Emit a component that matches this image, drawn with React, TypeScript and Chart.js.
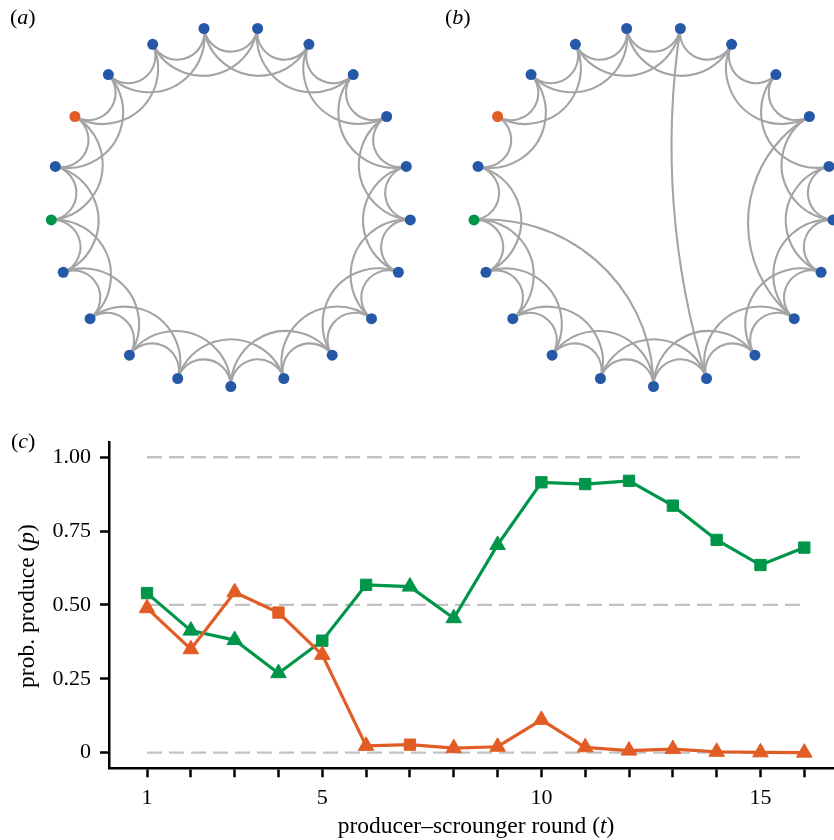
import React, { useEffect, useRef } from 'react';
import { Chart, registerables } from 'chart.js';

Chart.register(...registerables);

// ---------------- network data (panels a, b) ----------------
const nodeRoles: string[] = [
  'other', 'other', 'other', 'other', 'other',
  'producer', 'other', 'scrounger', 'other', 'other',
  'other', 'other', 'other', 'other', 'other',
  'other', 'other', 'other', 'other', 'other', 'other',
];

const roleColors: Record<string, string> = {
  other: '#2559a8',
  producer: '#00964a',
  scrounger: '#e25c26',
};

// regular ring lattice (each node linked to its 2 nearest neighbours on each side)
const edgesA: [number, number][] = [
  [0, 1], [1, 2], [2, 3], [3, 4], [4, 5], [5, 6], [6, 7], [7, 8], [8, 9], [9, 10],
  [10, 11], [11, 12], [12, 13], [13, 14], [14, 15], [15, 16], [16, 17], [17, 18], [18, 19], [19, 20], [20, 0],
  [0, 2], [1, 3], [2, 4], [3, 5], [4, 6], [5, 7], [6, 8], [7, 9], [8, 10], [9, 11],
  [10, 12], [11, 13], [12, 14], [13, 15], [14, 16], [15, 17], [16, 18], [17, 19], [18, 20], [19, 0], [20, 1],
];

// rewired lattice: three edges replaced by long-range shortcuts
const edgesB: [number, number][] = [
  [0, 1], [1, 2], [2, 3], [3, 4], [4, 5], [5, 6], [6, 7], [7, 8], [8, 9], [9, 10],
  [10, 11], [11, 12], [12, 13], [13, 14], [18, 14], [15, 16], [16, 17], [17, 18], [18, 19], [19, 20], [20, 0],
  [0, 2], [1, 3], [2, 4], [3, 5], [4, 6], [5, 0], [6, 8], [7, 9], [8, 10], [9, 11],
  [10, 12], [11, 20], [12, 14], [13, 15], [14, 16], [15, 17], [16, 18], [17, 19], [18, 20], [19, 0], [20, 1],
];

// ---------------- line chart data (panel c) ----------------
const rounds = [1, 2, 3, 4, 5, 6, 7, 8, 9, 10, 11, 12, 13, 14, 15, 16];
const greenP = [0.540, 0.413, 0.381, 0.269, 0.379, 0.568, 0.562, 0.455, 0.703, 0.915, 0.909, 0.920, 0.836, 0.720, 0.635, 0.694];
const greenMarkers = ['rect', 'triangle', 'triangle', 'triangle', 'rect', 'rect', 'triangle', 'triangle', 'triangle', 'rect', 'rect', 'rect', 'rect', 'rect', 'rect', 'rect'];
const orangeP = [0.489, 0.350, 0.543, 0.474, 0.331, 0.023, 0.027, 0.015, 0.020, 0.111, 0.018, 0.007, 0.012, 0.003, 0.001, 0.000];
const orangeMarkers = ['triangle', 'triangle', 'triangle', 'rect', 'triangle', 'triangle', 'rect', 'triangle', 'triangle', 'triangle', 'triangle', 'triangle', 'triangle', 'triangle', 'triangle', 'triangle'];
const refLevels = [0, 0.5, 1];
const xTickValues = [1, 2, 3, 4, 5, 6, 7, 8, 9, 10, 11, 12, 13, 14, 15, 16];
const xTickLabels = ['1', '', '', '', '5', '', '', '', '', '10', '', '', '', '', '15', ''];
const yTickValues = [0, 0.25, 0.5, 0.75, 1];
const yTickLabels = ['0', '0.25', '0.50', '0.75', '1.00'];

const GREEN = '#00964a';
const ORANGE = '#e25c26';
const FONT = '"Liberation Serif", "Times New Roman", serif';

// circular layout
function circularLayout(n: number) {
  return nodeRoles.map((_, k) => {
    const t = ((90 + (k * 360) / n) * Math.PI) / 180;
    return { x: Math.cos(t), y: -Math.sin(t) };
  });
}

const arcEdgesPlugin = {
  id: 'arcEdges',
  beforeDatasetsDraw(chart: any, _args: any, opts: any) {
    const xs = chart.scales.x;
    const ys = chart.scales.y;
    const ctx = chart.ctx as CanvasRenderingContext2D;
    const pts = chart.data.datasets[0].data.map((p: any) => ({
      x: xs.getPixelForValue(p.x),
      y: ys.getPixelForValue(p.y),
    }));
    const ox = xs.getPixelForValue(0);
    const oy = ys.getPixelForValue(0);
    const norm = (v: number) => {
      while (v > Math.PI) v -= 2 * Math.PI;
      while (v <= -Math.PI) v += 2 * Math.PI;
      return v;
    };
    ctx.save();
    ctx.strokeStyle = opts.color;
    ctx.lineWidth = opts.width;
    for (const [i, j] of opts.edges as [number, number][]) {
      const pi = pts[i];
      const pj = pts[j];
      const R = Math.hypot(pi.x - ox, pi.y - oy);
      const a = Math.atan2(pi.y - oy, pi.x - ox);
      const b = Math.atan2(pj.y - oy, pj.x - ox);
      const d = norm(b - a);
      const delta = Math.abs(d);
      ctx.beginPath();
      if (Math.abs(Math.PI - delta) < 1e-3) {
        ctx.moveTo(pi.x, pi.y);
        ctx.lineTo(pj.x, pj.y);
      } else {
        const mid = a + d / 2;
        const dist = R / Math.cos(delta / 2);
        const cx = ox + dist * Math.cos(mid);
        const cy = oy + dist * Math.sin(mid);
        const rho = R * Math.tan(delta / 2);
        const s = Math.atan2(pi.y - cy, pi.x - cx);
        const e = Math.atan2(pj.y - cy, pj.x - cx);
        const de = norm(e - s);
        ctx.arc(cx, cy, rho, s, e, de < 0);
      }
      ctx.stroke();
    }
    ctx.restore();
  },
};

function makeNetwork(canvas: HTMLCanvasElement, edges: [number, number][], xMin: number, xMax: number, yMin: number, yMax: number) {
  const nodes = circularLayout(nodeRoles.length);
  return new Chart(canvas, {
    type: 'scatter',
    data: {
      datasets: [
        {
          data: nodes,
          pointRadius: 5.5,
          pointHoverRadius: 5.5,
          pointBorderWidth: 0,
          pointBackgroundColor: nodeRoles.map((r) => roleColors[r]),
          clip: false as any,
        },
      ],
    },
    options: {
      responsive: false,
      animation: false,
      events: [],
      layout: { padding: 0, autoPadding: false },
      plugins: {
        legend: { display: false },
        tooltip: { enabled: false },
        arcEdges: { edges, color: '#a4a4a4', width: 2.1 },
      } as any,
      scales: {
        x: { type: 'linear', display: false, min: xMin, max: xMax },
        y: { type: 'linear', display: false, min: yMin, max: yMax },
      },
    },
    plugins: [arcEdgesPlugin],
  } as any);
}

function makeLineChart(canvas: HTMLCanvasElement) {
  const first = rounds[0];
  const last = rounds[rounds.length - 1];
  const refSets = refLevels.map((lv) => ({
    data: [{ x: first, y: lv }, { x: last, y: lv }],
    borderColor: '#c2c2c2',
    borderWidth: 2.4,
    borderDash: [15, 7],
    pointRadius: 0,
    order: 3,
  }));
  const series = (vals: number[], markers: string[], color: string, order: number) => ({
    data: rounds.map((r, i) => ({ x: r, y: vals[i] })),
    borderColor: color,
    backgroundColor: color,
    borderWidth: 3.2,
    pointStyle: markers,
    pointRadius: markers.map((m) => (m === 'rect' ? 8 : 9)),
    pointBorderWidth: 1,
    pointBackgroundColor: color,
    pointBorderColor: color,
    tension: 0,
    clip: false as any,
    order,
  });
  const tickFont = { family: FONT, size: 22 };
  return new Chart(canvas, {
    type: 'line',
    data: {
      datasets: [
        ...refSets,
        series(greenP, greenMarkers, GREEN, 2),
        series(orangeP, orangeMarkers, ORANGE, 1),
      ],
    },
    options: {
      responsive: false,
      animation: false,
      events: [],
      layout: { padding: { top: 22.7, left: 0, right: 0, bottom: 0 }, autoPadding: false },
      plugins: { legend: { display: false }, tooltip: { enabled: false } },
      scales: {
        x: {
          type: 'linear',
          min: 0.132,
          max: 16.678,
          afterBuildTicks: (s: any) => {
            s.ticks = xTickValues.map((v) => ({ value: v }));
          },
          afterFit: (s: any) => {
            s.height = 71.7;
          },
          border: { display: true, color: '#000', width: 2.5 },
          grid: { display: true, drawOnChartArea: false, drawTicks: true, tickLength: 9, tickWidth: 2.5, tickColor: '#000' },
          ticks: {
            autoSkip: false,
            maxRotation: 0,
            padding: 8,
            color: '#000',
            font: tickFont,
            callback: (v: any) => {
              const idx = xTickValues.indexOf(Number(v));
              return idx >= 0 ? xTickLabels[idx] : '';
            },
          },
        },
        y: {
          type: 'linear',
          min: -0.053,
          max: 1.049,
          afterBuildTicks: (s: any) => {
            s.ticks = yTickValues.map((v) => ({ value: v }));
          },
          afterFit: (s: any) => {
            s.width = 109;
          },
          border: { display: true, color: '#000', width: 2.5 },
          grid: { display: true, drawOnChartArea: false, drawTicks: true, tickLength: 9, tickWidth: 2.5, tickColor: '#000' },
          ticks: {
            autoSkip: false,
            padding: 9,
            color: '#000',
            font: tickFont,
            callback: (v: any) => {
              const idx = yTickValues.indexOf(Number(v));
              return idx >= 0 ? yTickLabels[idx] : '';
            },
          },
        },
      },
    },
  } as any);
}

const panelLabel = (left: number, top: number): React.CSSProperties => ({
  position: 'absolute',
  left,
  top,
  fontFamily: FONT,
  fontSize: 22,
  lineHeight: '22px',
  whiteSpace: 'nowrap',
  color: '#000',
});

export default function App() {
  const aRef = useRef<HTMLCanvasElement>(null);
  const bRef = useRef<HTMLCanvasElement>(null);
  const cRef = useRef<HTMLCanvasElement>(null);

  useEffect(() => {
    const charts: Chart[] = [];
    if (aRef.current) charts.push(makeNetwork(aRef.current, edgesA, -230.8 / 180, (417 - 230.8) / 180, -(420 - 206.5) / 180, 206.5 / 180));
    if (bRef.current) charts.push(makeNetwork(bRef.current, edgesB, -236.5 / 180, (417 - 236.5) / 180, -(420 - 206.5) / 180, 206.5 / 180));
    if (cRef.current) charts.push(makeLineChart(cRef.current));
    return () => charts.forEach((c) => c.destroy());
  }, []);

  return (
    <div style={{ position: 'absolute', left: 0, top: 0, width: 834, height: 840, background: '#fff', overflow: 'hidden' }}>
      <canvas ref={aRef} width={417} height={420} style={{ position: 'absolute', left: 0, top: 0, width: 417, height: 420 }} />
      <canvas ref={bRef} width={417} height={420} style={{ position: 'absolute', left: 417, top: 0, width: 417, height: 420 }} />
      <canvas ref={cRef} width={834} height={420} style={{ position: 'absolute', left: 0, top: 420, width: 834, height: 420 }} />
      <div style={panelLabel(10, 6)}>(<i>a</i>)</div>
      <div style={panelLabel(445, 6)}>(<i>b</i>)</div>
      <div style={panelLabel(11, 430)}>(<i>c</i>)</div>
      <div
        style={{
          position: 'absolute',
          left: 26.5,
          top: 605.5,
          transform: 'translate(-50%, -50%) rotate(-90deg)',
          fontFamily: FONT,
          fontSize: 23.5,
          lineHeight: '23.5px',
          whiteSpace: 'nowrap',
          color: '#000',
        }}
      >
        prob. produce (<i>p</i>)
      </div>
      <div
        style={{
          position: 'absolute',
          left: 476,
          top: 813.8,
          transform: 'translateX(-50%)',
          fontFamily: FONT,
          fontSize: 23.5,
          lineHeight: '23.5px',
          whiteSpace: 'nowrap',
          color: '#000',
        }}
      >
        producer–scrounger round (<i>t</i>)
      </div>
    </div>
  );
}
